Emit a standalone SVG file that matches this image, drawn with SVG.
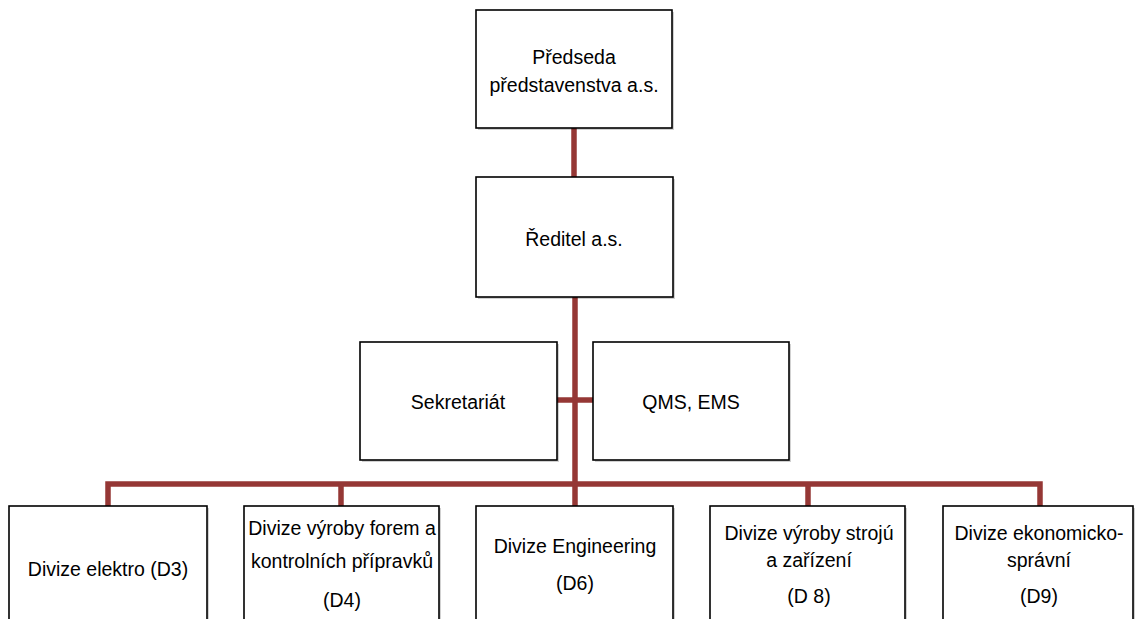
<svg xmlns="http://www.w3.org/2000/svg" width="1137" height="619" viewBox="0 0 1137 619">
<style>
.box{fill:#ffffff;stroke:#000000;stroke-width:1.6}
.sh{fill:#000000;opacity:0.18}
.t{font-family:"Liberation Sans",Arial,sans-serif;font-size:19.5px;fill:#000000;text-anchor:middle}
.c{stroke:#953735;stroke-width:5.5;fill:none;stroke-linejoin:miter}
</style>
<rect width="1137" height="619" fill="#ffffff"/>
<g id="connectors">
<line class="c" x1="574" y1="128" x2="574" y2="177"/>
<line class="c" x1="575" y1="297" x2="575" y2="506"/>
<line class="c" x1="557" y1="400" x2="593" y2="400"/>
<polyline class="c" points="108,506 108,484 1040,484 1040,506"/>
<line class="c" x1="341" y1="484" x2="341" y2="506"/>
<line class="c" x1="808" y1="484" x2="808" y2="506"/>
</g>
<g id="n-predseda">
<rect class="sh" x="478" y="12" width="196" height="118"/>
<rect class="box" x="476" y="10" width="196" height="118"/>
<text class="t" x="574" y="64">Předseda</text>
<text class="t" x="574" y="92">představenstva a.s.</text>
</g>
<g id="n-reditel">
<rect class="sh" x="478" y="179" width="197" height="120"/>
<rect class="box" x="476" y="177" width="197" height="120"/>
<text class="t" x="574" y="246">Ředitel a.s.</text>
</g>
<g id="n-sekretariat">
<rect class="sh" x="362" y="344" width="197" height="118"/>
<rect class="box" x="360" y="342" width="197" height="118"/>
<text class="t" x="458" y="409">Sekretariát</text>
</g>
<g id="n-qms">
<rect class="sh" x="595" y="344" width="196" height="118"/>
<rect class="box" x="593" y="342" width="196" height="118"/>
<text class="t" x="691" y="409">QMS, EMS</text>
</g>
<g id="n-d3">
<rect class="sh" x="11" y="508" width="198" height="130"/>
<rect class="box" x="9" y="506" width="198" height="130"/>
<text class="t" x="108" y="576">Divize elektro (D3)</text>
</g>
<g id="n-d4">
<rect class="sh" x="246" y="508" width="195" height="130"/>
<rect class="box" x="244" y="506" width="195" height="130"/>
<text class="t" x="342" y="535">Divize výroby forem a</text>
<text class="t" x="342" y="568">kontrolních přípravků</text>
<text class="t" x="342" y="607">(D4)</text>
</g>
<g id="n-d6">
<rect class="sh" x="478" y="508" width="197" height="130"/>
<rect class="box" x="476" y="506" width="197" height="130"/>
<text class="t" x="575" y="553">Divize Engineering</text>
<text class="t" x="575" y="590">(D6)</text>
</g>
<g id="n-d8">
<rect class="sh" x="712" y="508" width="195" height="130"/>
<rect class="box" x="710" y="506" width="195" height="130"/>
<text class="t" x="809" y="540">Divize výroby strojú</text>
<text class="t" x="809" y="567">a zařízení</text>
<text class="t" x="809" y="603">(D 8)</text>
</g>
<g id="n-d9">
<rect class="sh" x="945" y="508" width="190" height="130"/>
<rect class="box" x="943" y="506" width="190" height="130"/>
<text class="t" x="1039" y="540">Divize ekonomicko-</text>
<text class="t" x="1039" y="567">správní</text>
<text class="t" x="1039" y="603">(D9)</text>
</g>
</svg>
